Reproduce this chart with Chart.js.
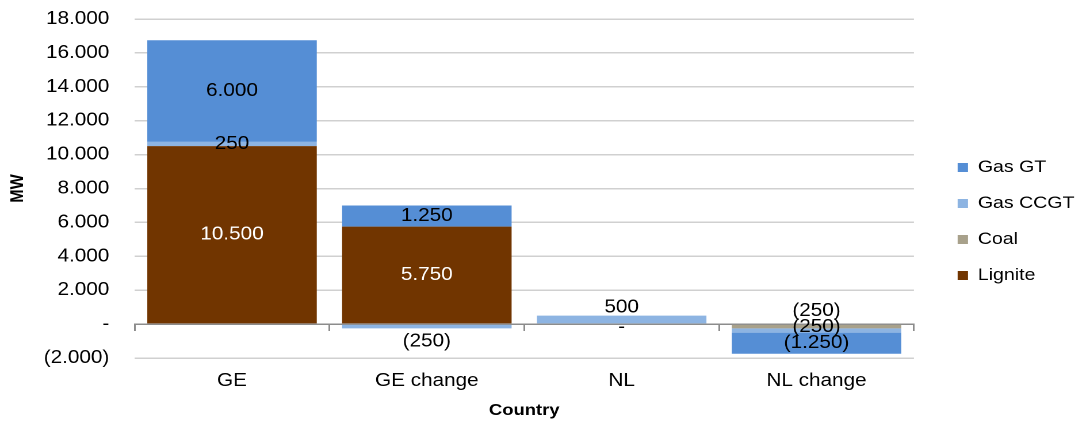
<!DOCTYPE html>
<html>
<head>
<meta charset="utf-8">
<script src="https://cdn.jsdelivr.net/npm/chart.js@4.4.1/dist/chart.umd.min.js"></script>
<style>
    html, body { margin: 0; padding: 0; background: #fff; overflow: hidden; }
    /* the reference is a bit wider than tall text would suggest, so stretch horizontally */
    #wrap { width: 944px; height: 424px; transform: scaleX(1.1504); transform-origin: 0 0; }
</style>
</head>
<body>
<div id="wrap"><canvas id="capacityChart" width="944" height="424"></canvas></div>
<script>
// Chart data
const categories = ['GE', 'GE change', 'NL', 'NL change'];
const lignite = [10500, 5750, 0, null];
const coal = [null, null, null, -250];
const gasCCGT = [250, -250, 500, -250];
const gasGT = [6000, 1250, null, -1250];

const yMin = -2000;
const yMax = 18000;
const yStep = 2000;

const FONT = '"Liberation Sans", Arial, sans-serif';

function fmt(v) {
    if (v === 0) return '-';
    const s = Math.abs(v).toString().replace(/\B(?=(\d{3})+(?!\d))/g, '.');
    return v < 0 ? '(' + s + ')' : s;
}

// Value labels in the middle of each segment, nudged outside when a segment is too thin
const segmentLabels = {
    id: 'segmentLabels',
    afterDatasetsDraw(chart) {
        const ctx = chart.ctx;
        const lineGap = 16;
        const cols = {};
        chart.data.datasets.forEach((ds, di) => {
            const meta = chart.getDatasetMeta(di);
            meta.data.forEach((bar, i) => {
                const v = ds.data[i];
                if (v === null || v === undefined) return;
                const top = Math.min(bar.y, bar.base);
                const bottom = Math.max(bar.y, bar.base);
                (cols[i] = cols[i] || []).push({
                    v, x: bar.x, y: (top + bottom) / 2, top, bottom,
                    h: bottom - top, color: ds.labelColor
                });
            });
        });

        ctx.save();
        ctx.font = '18px ' + FONT;
        ctx.textAlign = 'center';
        ctx.textBaseline = 'middle';
        Object.values(cols).forEach(items => {
            const pos = items.filter(it => it.v >= 0);
            const neg = items.filter(it => it.v < 0);
            [pos, neg].forEach((group, gi) => {
                if (!group.length) return;
                const isNeg = gi === 1;
                const outer = group[group.length - 1];
                if (outer.v !== 0 && outer.h < lineGap) {
                    outer.y = isNeg ? outer.bottom + 13 : outer.top - 8;
                }
                for (let k = group.length - 2; k >= 0; k--) {
                    const prev = group[k + 1].y;
                    group[k].y = isNeg ? Math.min(group[k].y, prev - lineGap)
                                       : Math.max(group[k].y, prev + lineGap);
                }
            });
            items.forEach(it => {
                ctx.fillStyle = it.v === 0 ? '#000000' : it.color;
                ctx.fillText(fmt(it.v), it.x, it.v === 0 ? it.y + 3 : it.y);
            });
        });
        ctx.restore();
    }
};

new Chart(document.getElementById('capacityChart'), {
    type: 'bar',
    data: {
        labels: categories,
        datasets: [
            { label: 'Lignite', data: lignite, backgroundColor: '#713500', labelColor: '#ffffff' },
            { label: 'Coal', data: coal, backgroundColor: '#a8a18b', labelColor: '#000000' },
            { label: 'Gas CCGT', data: gasCCGT, backgroundColor: '#8db4e2', labelColor: '#000000' },
            { label: 'Gas GT', data: gasGT, backgroundColor: '#558ed5', labelColor: '#000000' }
        ]
    },
    options: {
        responsive: false,
        devicePixelRatio: 2,
        animation: false,
        barPercentage: 0.87,
        categoryPercentage: 1,
        layout: {
            padding: { top: 19, right: 0, bottom: 0, left: 0 }
        },
        scales: {
            x: {
                stacked: true,
                grid: { display: false },
                border: { display: false },
                ticks: { color: '#000', font: { family: FONT, size: 18 }, padding: 4 },
                title: {
                    display: true, text: 'Country', color: '#000',
                    font: { family: FONT, size: 16, weight: 'bold' },
                    padding: { top: 0, bottom: 4 }
                },
                afterFit(scale) { scale.height = 66; }
            },
            xZero: {
                type: 'category',
                position: { y: 0 },
                offset: true,
                grid: { offset: true, drawOnChartArea: false, color: '#8c8c8c', lineWidth: 1.5, tickLength: 6 },
                border: { color: '#8c8c8c', width: 1.5 },
                ticks: { display: false },
                afterFit(scale) { scale.paddingLeft = 0; scale.paddingRight = 0; }
            },
            y: {
                stacked: true,
                min: yMin,
                max: yMax,
                grid: { color: '#d0d0d0', lineWidth: 1.5, drawTicks: false },
                border: { display: false },
                ticks: {
                    stepSize: yStep,
                    color: '#000',
                    font: { family: FONT, size: 18 },
                    padding: 22,
                    callback: value => fmt(value)
                },
                title: {
                    display: true, text: 'MW', color: '#000',
                    font: { family: FONT, size: 16, weight: 'bold' },
                    padding: { top: 6, bottom: 0 }
                },
                afterFit(scale) {
                    scale.width = 117;
                    scale.paddingTop = 0;
                    scale.paddingBottom = 0;
                }
            },
            yGap: {
                type: 'linear',
                position: 'right',
                grid: { display: false },
                border: { display: false },
                ticks: { display: false },
                afterFit(scale) {
                    scale.width = 19;
                    scale.paddingTop = 0;
                    scale.paddingBottom = 0;
                }
            }
        },
        plugins: {
            legend: {
                position: 'right',
                reverse: true,
                labels: {
                    color: '#000',
                    font: { family: FONT, size: 17 },
                    boxWidth: 9,
                    boxHeight: 9,
                    padding: 19
                }
            },
            tooltip: { enabled: false }
        }
    },
    plugins: [segmentLabels]
});
</script>
</body>
</html>
